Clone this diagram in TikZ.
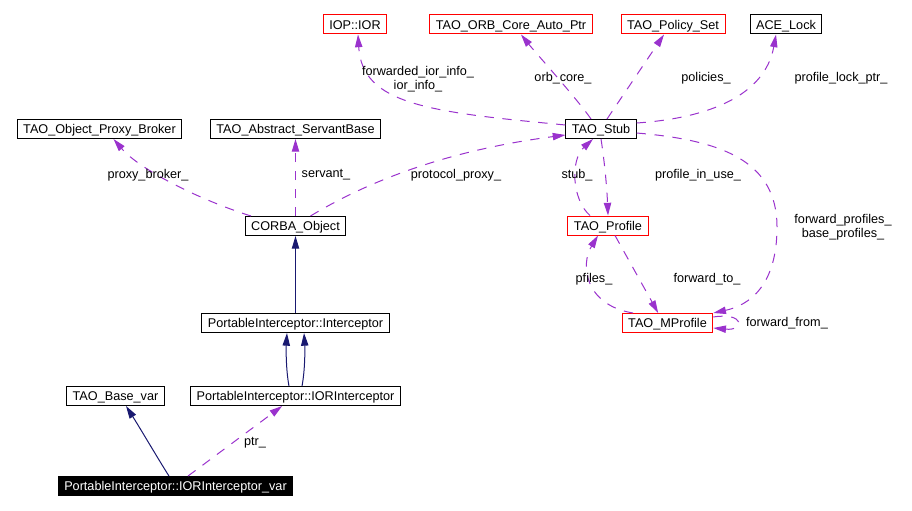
\documentclass[tikz,border=0pt]{standalone}
\usepackage{fontspec}
\setmainfont{Liberation Sans}
\usetikzlibrary{arrows.meta}
\definecolor{usecol}{RGB}{154,50,205}
\definecolor{inhcol}{RGB}{25,25,112}
\tikzset{
  cls/.style={draw=black,line width=0.75pt,fill=white,minimum height=14.25pt,inner xsep=4.5pt,inner ysep=0pt,text height=8pt,text depth=1pt},
  clsred/.style={cls,draw=red},
  clsroot/.style={cls,fill=black,text=white},
  usage/.style={draw=usecol,line width=0.75pt,dash pattern=on 7pt off 6.5pt,-{Triangle[length=9.5pt,width=5.5pt]}},
  inherit/.style={draw=inhcol,line width=0.75pt,-{Triangle[length=9.5pt,width=5.5pt]}},
  lbl/.style={inner sep=0pt}
}
\begin{document}
\begin{tikzpicture}[x=0.75pt,y=-0.75pt,font=\fontsize{9.5pt}{10.5pt}\selectfont]
\useasboundingbox (0,0) rectangle (912,510);
%% top row
\node[clsred] (ior) at (355,24.5) {IOP::IOR};
\node[clsred] (orbcore) at (511,24.5) {TAO\_ORB\_Core\_Auto\_Ptr};
\node[clsred] (policyset) at (673,24.5) {TAO\_Policy\_Set};
\node[cls] (acelock) at (786,24.5) {ACE\_Lock};
%% second row
\node[cls] (broker) at (99.5,129) {TAO\_Object\_Proxy\_Broker};
\node[cls] (servantbase) at (295.5,129) {TAO\_Abstract\_ServantBase};
\node[cls] (stub) at (601,129) {TAO\_Stub};
%% middle
\node[cls] (corba) at (295.5,226) {CORBA\_Object};
\node[clsred] (profile) at (608,225.5) {TAO\_Profile};
\node[cls] (interceptor) at (295.5,323) {PortableInterceptor::Interceptor};
\node[clsred] (mprofile) at (667.5,323) {TAO\_MProfile};
%% bottom
\node[cls] (basevar) at (115.5,396) {TAO\_Base\_var};
\node[cls] (iorinterceptor) at (295.5,396) {PortableInterceptor::IORInterceptor};
\node[clsroot] (iorvar) at (175.5,486) {PortableInterceptor::IORInterceptor\_var};
%% usage relations
\draw[usage] ([yshift=3pt]stub.west) .. controls (430,112) and (362,105) .. ([xshift=2.25pt]ior.south);
\draw[usage] ([xshift=-7.5pt]stub.north) .. controls (578,100) and (535,52) .. ([xshift=7.5pt]orbcore.south);
\draw[usage] ([xshift=4.5pt]stub.north) -- ([xshift=-6.75pt]policyset.south);
\draw[usage] ([yshift=4.5pt]stub.east) .. controls (710,118) and (765,95) .. ([xshift=-7.5pt]acelock.south);
\draw[usage] ([yshift=-3pt]stub.east) .. controls (720,140) and (777,160) .. (777,227) .. controls (777,285) and (750,305) .. (mprofile.north east);
\draw[usage] (stub.south) .. controls (605,165) and (607,190) .. (profile.north);
\draw[usage] ([xshift=-13.5pt]profile.north) .. controls (572,200) and (570,160) .. ([xshift=-6pt]stub.south);
\draw[usage] ([xshift=-25.9pt]mprofile.north) .. controls (585,305) and (580,265) .. ([xshift=-7.5pt]profile.south);
\draw[usage] ([xshift=5.25pt]profile.south) -- ([xshift=-7pt]mprofile.north);
\draw[usage] ([yshift=4.5pt]mprofile.east) .. controls (745,312) and (745,331) .. ([yshift=-3.75pt]mprofile.east);
\draw[usage] ([xshift=11.25pt]corba.north) .. controls (370,180) and (450,150) .. ([yshift=-4.5pt]stub.west);
\draw[usage] ([xshift=-33.4pt]corba.north) .. controls (200,200) and (140,170) .. ([xshift=10.5pt]broker.south);
\draw[usage] (corba.north) -- (servantbase.south);
\draw[usage] ([xshift=9.4pt]iorvar.north) -- ([xshift=-10pt]iorinterceptor.south);
%% inheritance
\draw[inherit] (interceptor.north) -- (corba.south);
\draw[inherit] ([xshift=-4.9pt]iorinterceptor.north) .. controls (286,370) and (286,350) .. ([xshift=-6.4pt]interceptor.south);
\draw[inherit] ([xshift=4.9pt]iorinterceptor.north) .. controls (305,370) and (305,350) .. ([xshift=6.4pt]interceptor.south);
\draw[inherit] ([xshift=-4.9pt]iorvar.north) .. controls (160,462) and (140,428) .. ([xshift=7.9pt]basevar.south);
%% labels
\node[lbl,align=center] (lior) at (418,79) {forwarded\_ior\_info\_\\ior\_info\_};
\node[lbl] (lorb) at (563,78) {orb\_core\_};
\node[lbl] (lpol) at (706,78) {policies\_};
\node[lbl] (llock) at (841,78) {profile\_lock\_ptr\_};
\node[lbl] (lbroker) at (148,175) {proxy\_broker\_};
\node[lbl] (lservant) at (326,175) {servant\_};
\node[lbl] (lproxy) at (456,175) {protocol\_proxy\_};
\node[lbl] (lstub) at (577,175) {stub\_};
\node[lbl] (linuse) at (698,175) {profile\_in\_use\_};
\node[lbl,align=center] (lfwd) at (843,227) {forward\_profiles\_\\base\_profiles\_};
\node[lbl] (lpfiles) at (594,279) {pfiles\_};
\node[lbl] (lfwdto) at (707,279) {forward\_to\_};
\node[lbl] (lfwdfrom) at (787,323) {forward\_from\_};
\node[lbl] (lptr) at (255,443) {ptr\_};
\end{tikzpicture}
\end{document}
